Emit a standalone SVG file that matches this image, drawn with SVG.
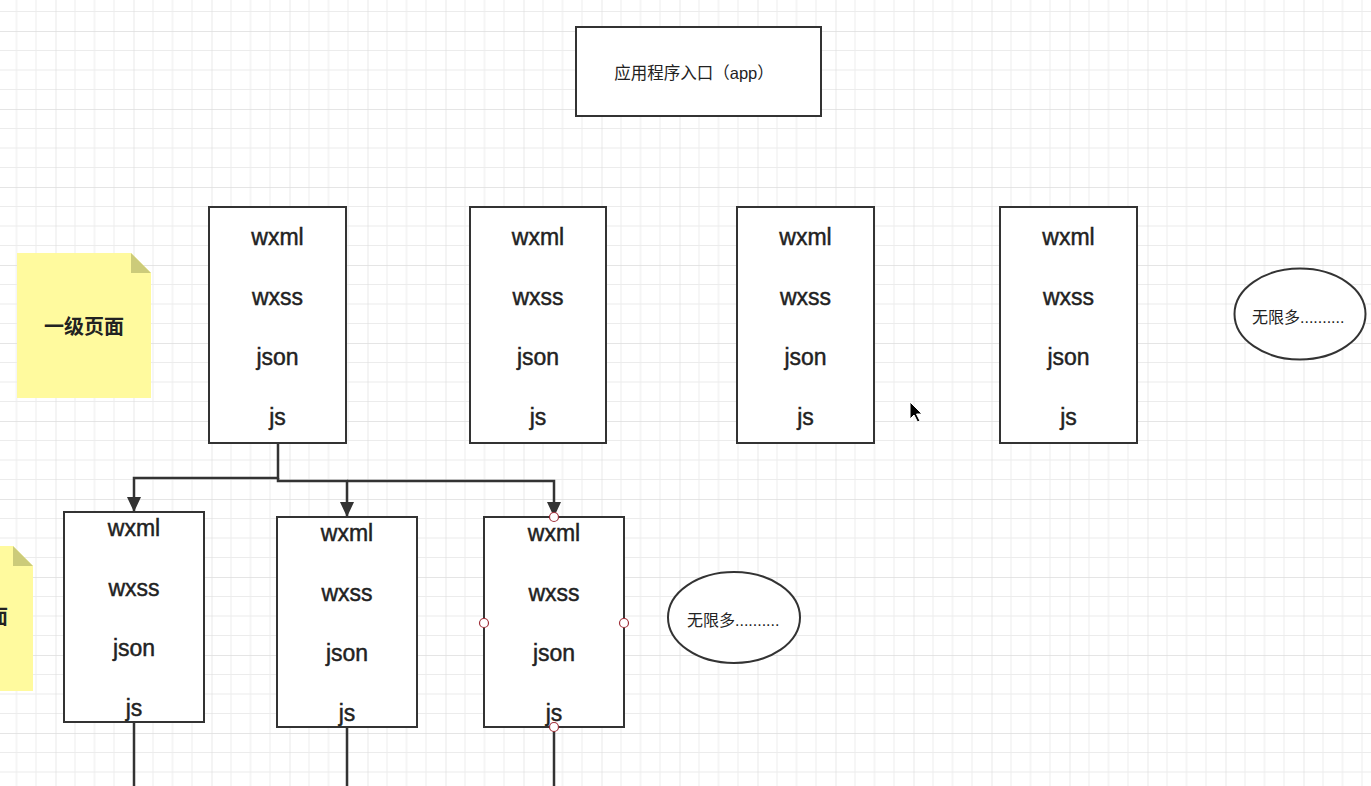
<svg xmlns="http://www.w3.org/2000/svg" width="1371" height="786" viewBox="0 0 1371 786">
<defs>
<pattern id="grid" patternUnits="userSpaceOnUse" x="55.5" y="31" width="78" height="78">
<rect width="78" height="78" fill="#ffffff"/>
<g stroke="#ececec" stroke-width="1">
<line x1="19.5" y1="0" x2="19.5" y2="78"/><line x1="39" y1="0" x2="39" y2="78"/><line x1="58.5" y1="0" x2="58.5" y2="78"/>
<line x1="0" y1="19.5" x2="78" y2="19.5"/><line x1="0" y1="39" x2="78" y2="39"/><line x1="0" y1="58.5" x2="78" y2="58.5"/>
</g>
<g stroke="#dddddd" stroke-width="1.3">
<line x1="0" y1="0" x2="0" y2="78"/><line x1="0" y1="0" x2="78" y2="0"/>
</g>
</pattern>
<marker id="arr" viewBox="0 0 15 14" refX="15" refY="7" markerWidth="15" markerHeight="14" markerUnits="userSpaceOnUse" orient="auto">
<path d="M0,0 L15,7 L0,14 Z" fill="#333333"/>
</marker>
<style>
.box{fill:#ffffff;stroke:#333333;stroke-width:2}
.t{font-family:"Liberation Sans","Noto Sans CJK SC",sans-serif;font-size:23px;fill:#222222;stroke:#222222;stroke-width:0.45;text-anchor:middle}
.cn{font-family:"Liberation Sans","Noto Sans CJK SC",sans-serif;fill:#222222}
.note{fill:#fffa9e}
.fold{fill:#cccb7a}
.ell{fill:#ffffff;stroke:#333333;stroke-width:2}
.conn{fill:none;stroke:#333333;stroke-width:2.5}
.h{fill:#ffffff;stroke:#a0303a;stroke-width:1.2}
</style>
</defs>
<rect width="1371" height="786" fill="url(#grid)"/>

<g id="app">
<rect class="box" x="576" y="27" width="245" height="89"/>
<text class="cn" x="694" y="79" font-size="16.5" text-anchor="middle">应用程序入口（app）</text>
</g>

<g id="note1">
<path class="note" d="M17,253 H131 L151,273 V398 H17 Z"/>
<path class="fold" d="M131,253 L151,273 H131 Z"/>
<text class="cn" x="84" y="334" font-size="20" font-weight="bold" text-anchor="middle">一级页面</text>
</g>

<g id="note2">
<path class="note" d="M-120,546 H13 L33,566 V691 H-120 Z"/>
<path class="fold" d="M13,546 L33,566 H13 Z"/>
<text class="cn" x="8" y="624" font-size="20" font-weight="bold" text-anchor="end">面</text>
</g>

<g id="page1">
<rect class="box" x="209" y="207" width="137" height="236"/>
<text class="t" x="277.5" y="245">wxml</text><text class="t" x="277.5" y="305">wxss</text><text class="t" x="277.5" y="365">json</text><text class="t" x="277.5" y="425">js</text>
</g>
<g id="page2">
<rect class="box" x="470" y="207" width="136" height="236"/>
<text class="t" x="538" y="245">wxml</text><text class="t" x="538" y="305">wxss</text><text class="t" x="538" y="365">json</text><text class="t" x="538" y="425">js</text>
</g>
<g id="page3">
<rect class="box" x="737" y="207" width="137" height="236"/>
<text class="t" x="805.5" y="245">wxml</text><text class="t" x="805.5" y="305">wxss</text><text class="t" x="805.5" y="365">json</text><text class="t" x="805.5" y="425">js</text>
</g>
<g id="page4">
<rect class="box" x="1000" y="207" width="137" height="236"/>
<text class="t" x="1068.5" y="245">wxml</text><text class="t" x="1068.5" y="305">wxss</text><text class="t" x="1068.5" y="365">json</text><text class="t" x="1068.5" y="425">js</text>
</g>

<g id="more1">
<ellipse class="ell" cx="1300" cy="314" rx="65.5" ry="45.5"/>
<text class="cn" x="1252" y="323" font-size="16">无限多..........</text>
</g>

<g id="sub1">
<rect class="box" x="64" y="512" width="140" height="210"/>
<text class="t" x="134" y="536">wxml</text><text class="t" x="134" y="596">wxss</text><text class="t" x="134" y="656">json</text><text class="t" x="134" y="716">js</text>
</g>
<g id="sub2">
<rect class="box" x="277" y="517" width="140" height="210"/>
<text class="t" x="347" y="541">wxml</text><text class="t" x="347" y="601">wxss</text><text class="t" x="347" y="661">json</text><text class="t" x="347" y="721">js</text>
</g>
<g id="sub3">
<rect class="box" x="484" y="517" width="140" height="210"/>
<text class="t" x="554" y="541">wxml</text><text class="t" x="554" y="601">wxss</text><text class="t" x="554" y="661">json</text><text class="t" x="554" y="721">js</text>
</g>

<g id="more2">
<ellipse class="ell" cx="734" cy="617.5" rx="66" ry="45.5"/>
<text class="cn" x="687" y="626" font-size="16">无限多..........</text>
</g>

<g id="connectors">
<path class="conn" d="M278,443 V478 H134 V512" marker-end="url(#arr)"/>
<path class="conn" d="M278,478 V481 H347 V517" marker-end="url(#arr)"/>
<path class="conn" d="M347,481 H554 V517" marker-end="url(#arr)"/>
<path class="conn" d="M134,722 V786"/>
<path class="conn" d="M347,727 V786"/>
<path class="conn" d="M554,727 V786"/>
</g>

<g id="handles">
<circle class="h" cx="554" cy="517" r="4.5"/>
<circle class="h" cx="484" cy="623" r="4.5"/>
<circle class="h" cx="624" cy="623" r="4.5"/>
<circle class="h" cx="554" cy="727" r="4.5"/>
</g>

<g id="cursor">
<path d="M910,402 V419 L914,415 L917.5,422 L920,421 L916.5,414 L922,414 Z" fill="#000000" stroke="#ffffff" stroke-width="1"/>
</g>
</svg>
